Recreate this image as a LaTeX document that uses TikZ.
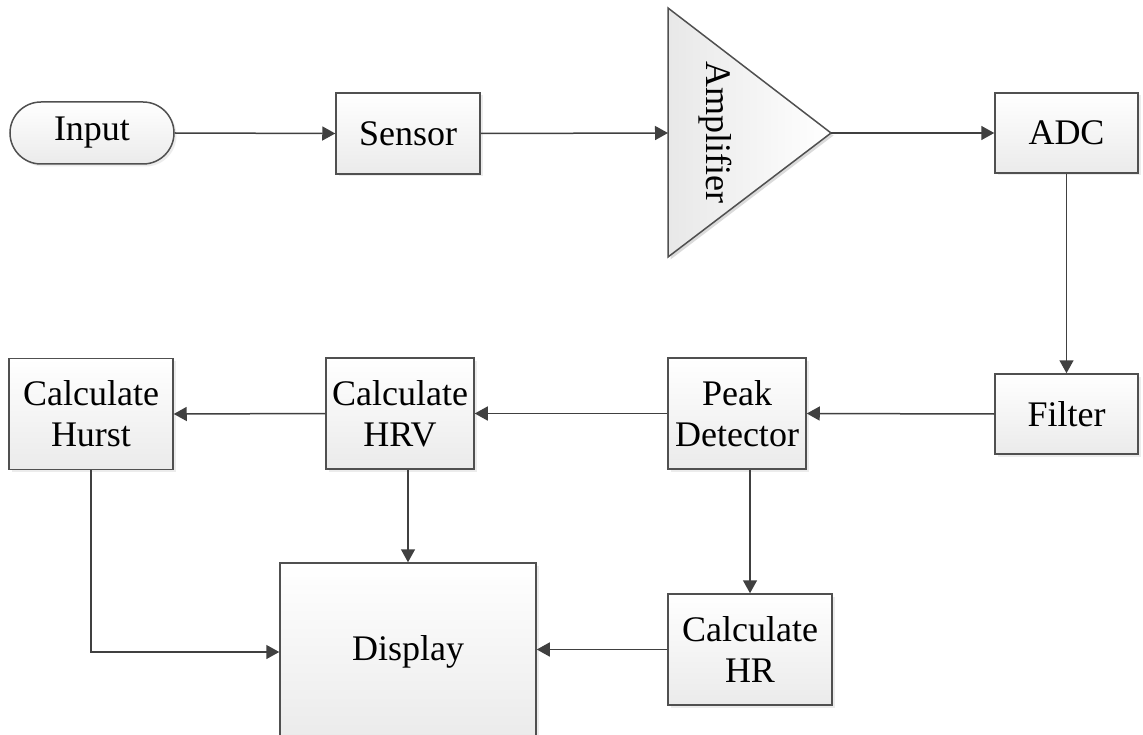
\documentclass[tikz,border=0pt]{standalone}
\usepackage{fontspec}
\setmainfont{Liberation Serif}
\usetikzlibrary{arrows.meta,shadows}
\definecolor{edge}{HTML}{505050}
\definecolor{wire}{HTML}{404040}
\tikzset{
  block/.style={draw=edge, line width=1.5pt, top color=white, bottom color=black!8,
    align=center, font=\fontsize{36}{41}\selectfont, inner sep=0pt,
    drop shadow={shadow xshift=2.5pt, shadow yshift=-2.5pt, fill=black!14}},
  arr/.style={draw=wire, line width=1.5pt, -{Triangle[length=13pt,width=14pt]}},
}
\begin{document}
\begin{tikzpicture}[x=1pt,y=-1pt]
\useasboundingbox (0,0) rectangle (1143,735);
\fill[white] (0,0) rectangle (1143,735);

% top row
\node[block, rounded corners=31pt, minimum width=164pt, minimum height=62pt] (input) at (92,133) {Input};
\node[block, minimum width=144pt, minimum height=81pt] (sensor) at (408,133.5) {Sensor};

% amplifier triangle
\coordinate (ampin) at (668,133);
\coordinate (ampout) at (831,133);
\fill[black!14] (670.5,10.5) -- (670.5,259.5) -- (833.5,135.5) -- cycle;
\draw[draw=edge, line width=1.5pt, left color=black!9, right color=white]
  (668,8) -- (668,257) -- (ampout) -- cycle;
\node[rotate=-90, font=\fontsize{36}{41}\selectfont] (amp) at (715,132) {Amplifier};

\node[block, minimum width=143pt, minimum height=80pt] (adc) at (1066.5,133) {ADC};

% lower rows
\node[block, minimum width=143pt, minimum height=80pt] (filter) at (1066.5,414) {Filter};
\node[block, minimum width=138pt, minimum height=111pt] (peak) at (737,413.5) {Peak\\Detector};
\node[block, minimum width=148pt, minimum height=111pt] (hrv) at (400,413.5) {Calculate\\HRV};
\node[block, minimum width=164pt, minimum height=111pt] (hurst) at (91,414) {Calculate\\Hurst};
\node[block, minimum width=256pt, minimum height=178pt] (display) at (408,652) {Display};
\node[block, minimum width=164pt, minimum height=111pt] (hr) at (750,649.5) {Calculate\\HR};

% connectors
\draw[arr] (input.east) -- (sensor.west);
\draw[arr] (sensor.east) -- (ampin);
\draw[arr] (ampout) -- (adc.west);
\draw[arr] (adc.south) -- (filter.north);
\draw[arr] (filter.west) -- (peak.east);
\draw[arr] (peak.west) -- (hrv.east);
\draw[arr] (hrv.west) -- (hurst.east);
\draw[arr] (display.north |- hrv.south) -- (display.north);
\draw[arr] (hr.north |- peak.south) -- (hr.north);
\draw[arr] (hr.west) -- (hr.west -| display.east);
\draw[arr] (hurst.south) |- (display.west);
\end{tikzpicture}
\end{document}
